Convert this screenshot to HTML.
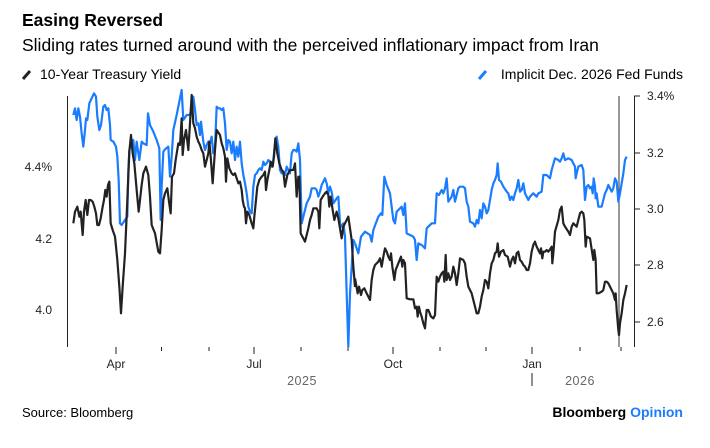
<!DOCTYPE html>
<html><head><meta charset="utf-8"><style>
html,body{margin:0;padding:0;background:#fff;}
body{width:710px;height:443px;overflow:hidden;font-family:"Liberation Sans",Arial,sans-serif;}
</style></head><body>
<svg width="710" height="443" viewBox="0 0 710 443" xmlns="http://www.w3.org/2000/svg" font-family="Liberation Sans, Arial, sans-serif">
<text x="22" y="26" font-size="17.5" font-weight="bold" fill="#000">Easing Reversed</text>
<text x="22" y="51" font-size="17.5" fill="#000">Sliding rates turned around with the perceived inflationary impact from Iran</text>
<line x1="23" y1="79" x2="30" y2="71" stroke="#222" stroke-width="3"/>
<text x="40" y="79" font-size="14" fill="#000">10-Year Treasury Yield</text>
<line x1="479" y1="79" x2="486" y2="71" stroke="#1a7cff" stroke-width="3"/>
<text x="683" y="79" font-size="14" fill="#000" text-anchor="end">Implicit Dec. 2026 Fed Funds</text>
<!-- axes -->
<line x1="67.5" y1="96" x2="67.5" y2="347" stroke="#222" stroke-width="1"/>
<line x1="634.5" y1="96" x2="634.5" y2="347" stroke="#222" stroke-width="1"/>
<g stroke="#222" stroke-width="1">
<line x1="634" y1="96" x2="640" y2="96"/><line x1="634" y1="153" x2="640" y2="153"/><line x1="634" y1="209" x2="640" y2="209"/><line x1="634" y1="265" x2="640" y2="265"/><line x1="634" y1="322" x2="640" y2="322"/>
<line x1="116" y1="347" x2="116" y2="354"/><line x1="161.5" y1="347" x2="161.5" y2="351"/><line x1="209" y1="347" x2="209" y2="351"/><line x1="254" y1="347" x2="254" y2="354"/><line x1="301" y1="347" x2="301" y2="351"/><line x1="348" y1="347" x2="348" y2="351"/><line x1="393" y1="347" x2="393" y2="354"/><line x1="440" y1="347" x2="440" y2="351"/><line x1="486" y1="347" x2="486" y2="351"/><line x1="532" y1="347" x2="532" y2="354"/><line x1="580" y1="347" x2="580" y2="351"/><line x1="621" y1="347" x2="621" y2="351"/>
<line x1="532" y1="373" x2="532" y2="386"/>
</g>
<line x1="619" y1="96" x2="619" y2="347" stroke="#555" stroke-width="1.2"/>
<g font-size="12" fill="#222">
<text x="52" y="171" text-anchor="end">4.4%</text>
<text x="52" y="243" text-anchor="end">4.2</text>
<text x="52" y="314" text-anchor="end">4.0</text>
<text x="647" y="100">3.4%</text><text x="647" y="157">3.2</text><text x="647" y="213">3.0</text><text x="647" y="269">2.8</text><text x="647" y="326">2.6</text>
<text x="116" y="368" text-anchor="middle">Apr</text><text x="254" y="368" text-anchor="middle">Jul</text><text x="393" y="368" text-anchor="middle">Oct</text><text x="532" y="368" text-anchor="middle">Jan</text>
</g>
<text x="302" y="385" font-size="12.5" fill="#666" text-anchor="middle" letter-spacing="0.5">2025</text>
<text x="580" y="385" font-size="12.5" fill="#666" text-anchor="middle" letter-spacing="0.5">2026</text>
<g transform="translate(0,60) scale(0.33333)" fill="none" stroke-linejoin="round">
<polyline vector-effect="non-scaling-stroke" stroke="#1a7cff" stroke-width="2.2" points="220,165 225,145 230,180 235,145 240,170 245,220 250,260 255,210 258,175 262,180 268,130 275,115 282,100 288,110 292,170 298,210 303,195 310,140 315,135 320,150 325,145 330,195 332,240 340,245 348,260 352,290 356,360 360,490 365,495 375,480 382,470 385,330 388,270 393,250 400,240 405,300 410,245 418,300 425,245 430,250 440,255 444,160 450,195 460,215 470,240 478,265 482,480 485,380 490,275 495,268 505,260 510,350 515,290 520,210 530,165 540,115 545,90 550,180 560,165 570,165 575,140 580,110 585,150 590,195 595,190 600,225 603,185 610,245 615,270 620,255 625,245 630,250 635,230 640,280 645,260 650,140 655,145 660,145 665,150 670,145 675,190 680,270 685,240 690,245 695,280 700,245 705,300 710,260 715,290 720,245 725,310 730,345 735,370 740,400 745,440 750,455 755,460 760,380 765,345 770,340 775,330 780,325 785,330 790,305 795,315 800,310 805,300 810,305 815,320 820,300 825,250 830,230 835,260 840,330 845,340 850,340 855,345 860,320 865,330 870,340 875,280 880,270 885,270 890,275 895,250 900,300 905,490 910,470 915,450 920,430 930,410 935,385 940,385 945,385 950,390 955,410 960,395 965,375 970,365 975,355 980,370 985,400 990,380 995,395 1000,430 1010,415 1015,410 1020,490 1025,500 1030,490 1035,530 1040,700 1045,860 1050,700 1060,540 1065,549"/>
<polyline vector-effect="non-scaling-stroke" stroke="#222" stroke-width="2.2" points="220,490 225,455 232,440 238,470 242,455 248,525 252,455 257,420 262,465 267,420 272,420 278,425 283,440 288,460 292,495 297,495 302,475 308,440 312,420 316,390 320,410 324,375 328,365 332,490 338,510 345,530 352,600 358,680 363,760 368,680 375,580 382,420 388,275 393,225 398,280 403,310 410,390 416,455 420,420 425,375 430,340 438,320 445,345 450,410 455,495 465,520 475,575 480,580 485,510 490,420 495,400 502,385 507,425 512,460 516,350 522,340 527,300 535,250 540,255 545,175 548,285 552,240 558,210 565,270 570,190 575,105 580,190 585,205 590,230 595,245 600,255 605,270 610,280 615,320 620,300 625,280 628,245 632,290 638,370 645,270 650,210 660,225 665,250 670,265 675,290 678,365 682,295 688,325 695,340 700,345 705,340 710,355 715,370 720,365 725,390 728,420 732,440 735,445 738,490 742,455 748,465 755,490 760,505 763,470 768,420 772,380 778,360 785,350 790,345 795,335 798,390 802,360 808,330 812,305 818,320 822,290 826,235 832,280 838,310 845,330 850,335 855,380 862,345 870,330 880,330 885,310 890,410 895,350 898,350 902,520 910,535 915,545 920,525 925,505 930,480 935,465 940,445 945,445 950,445 955,455 958,505 962,420 968,410 975,400 980,395 985,405 988,440 992,410 998,450 1003,480 1010,455 1015,475 1020,505 1025,535 1030,500 1040,480 1045,470 1050,505 1055,540 1060,620 1065,681"/>
</g>
<g transform="translate(355,60) scale(0.33333)" fill="none" stroke-linejoin="round">
<polyline vector-effect="non-scaling-stroke" stroke="#1a7cff" stroke-width="2.2" points="0,550 10,580 18,530 30,515 45,525 50,545 55,510 70,470 78,460 82,465 88,350 95,375 105,400 115,480 120,490 125,455 140,440 145,465 150,430 155,520 165,525 175,530 180,540 185,600 190,550 200,555 210,565 215,505 230,490 240,490 245,400 252,405 260,390 265,400 270,385 275,355 280,425 290,410 295,390 300,425 310,385 315,380 325,380 330,385 335,425 340,440 345,485 355,490 360,500 365,480 370,490 375,450 380,475 385,430 390,440 395,460 400,450 410,390 415,370 420,360 425,345 428,310 432,360 438,365 445,380 455,395 460,400 465,420 470,410 475,420 480,400 485,385 490,360 495,395 500,390 505,370 510,400 515,410 520,420 525,410 535,400 545,410 550,400 560,395 565,345 575,345 585,355 590,330 600,295 610,300 615,305 620,295 625,280 630,300 640,295 650,300 655,310 660,320 662,355 665,340 670,320 680,315 685,330 690,420 695,380 700,375 705,385 710,380 713,400 716,355 720,380 722,415 725,400 730,440 740,440 745,420 750,400 755,390 760,375 765,385 770,395 775,385 780,355 785,365 790,425 795,400 800,370 805,340 810,300 815,290"/>
<polyline vector-effect="non-scaling-stroke" stroke="#222" stroke-width="2.2" points="0,655 8,700 12,680 18,705 22,690 28,685 35,700 40,710 45,720 50,660 55,630 60,615 70,605 75,595 80,620 85,590 90,565 95,575 100,590 105,600 108,580 112,620 118,660 122,630 130,610 138,590 142,620 145,600 150,610 155,715 165,718 175,718 180,745 185,740 188,770 192,740 195,755 200,770 205,790 210,805 215,750 220,750 228,770 235,775 240,765 245,650 250,665 255,650 260,640 265,635 268,665 272,585 275,660 280,640 285,660 290,650 295,620 300,640 305,675 310,640 315,595 325,600 330,610 335,650 340,680 345,690 350,700 355,720 360,740 365,760 370,760 375,740 380,710 385,690 390,660 395,665 400,685 405,640 410,610 415,600 420,580 425,575 428,550 432,590 438,575 445,570 450,585 458,590 465,620 470,600 475,590 480,610 485,580 490,575 495,600 500,605 505,615 510,620 515,630 520,630 525,610 530,575 535,555 540,545 545,560 550,570 555,580 558,565 562,595 565,575 570,575 575,570 580,575 585,568 590,560 592,610 595,580 600,515 610,480 615,450 620,440 625,490 630,500 640,515 645,525 650,500 655,490 660,495 665,500 670,480 675,460 680,455 685,460 688,480 692,560 695,530 705,535 708,555 715,600 718,570 722,600 725,700 730,700 740,695 745,690 750,665 755,665 760,670 765,680 770,690 775,700 780,720 782,700 785,750 790,810 792,825 795,790 800,760 805,720 810,700 815,675"/>
</g>
<text x="22" y="417" font-size="13" fill="#000">Source: Bloomberg</text>
<text x="683" y="417" font-size="14" font-weight="bold" text-anchor="end" fill="#000">Bloomberg <tspan fill="#1a7cff">Opinion</tspan></text>
</svg>
</body></html>
